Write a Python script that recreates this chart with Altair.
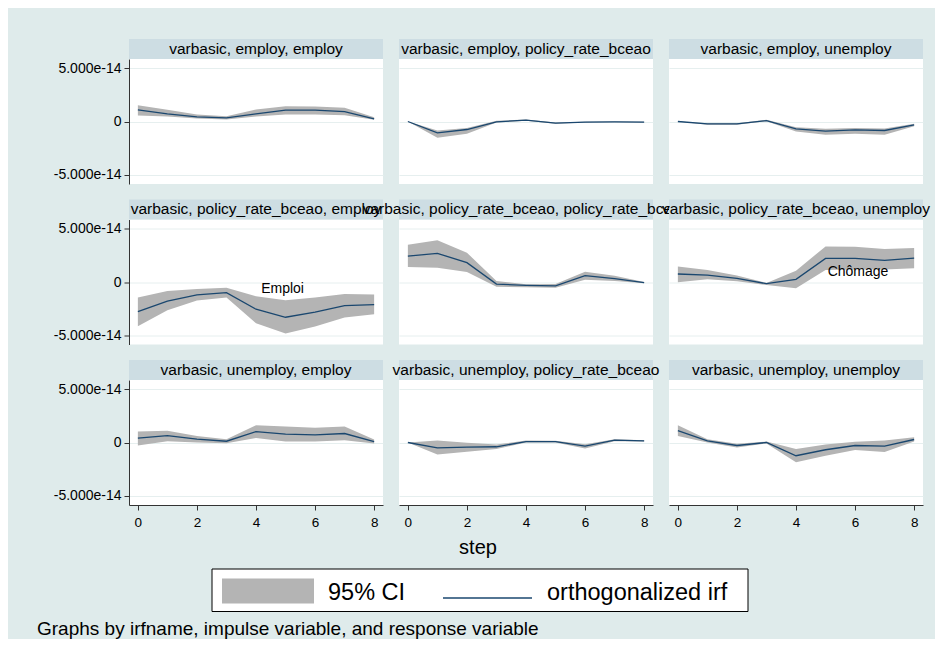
import altair as alt
import pandas as pd

# ---------------- data (values in units of 1e-14) ----------------
STEPS = [0, 1, 2, 3, 4, 5, 6, 7, 8]
UNIT = 1e-14

TITLES = [
    "varbasic, employ, employ",
    "varbasic, employ, policy_rate_bceao",
    "varbasic, employ, unemploy",
    "varbasic, policy_rate_bceao, employ",
    "varbasic, policy_rate_bceao, policy_rate_bceao",
    "varbasic, policy_rate_bceao, unemploy",
    "varbasic, unemploy, employ",
    "varbasic, unemploy, policy_rate_bceao",
    "varbasic, unemploy, unemploy",
]

IRF = [
    [1.09, 0.72, 0.44, 0.34, 0.72, 1.06, 1.06, 0.93, 0.25],
    [0.00, -1.06, -0.75, -0.03, 0.12, -0.16, -0.06, -0.03, -0.06],
    [0.00, -0.22, -0.22, 0.09, -0.69, -0.90, -0.78, -0.84, -0.31],
    [-2.77, -1.78, -1.21, -1.00, -2.55, -3.30, -2.83, -2.21, -2.12],
    [2.43, 2.68, 1.81, -0.19, -0.31, -0.37, 0.59, 0.31, -0.06],
    [0.75, 0.65, 0.34, -0.16, 0.25, 2.21, 2.21, 2.02, 2.24],
    [0.40, 0.65, 0.31, 0.12, 1.02, 0.78, 0.71, 0.84, 0.09],
    [0.00, -0.50, -0.43, -0.40, 0.09, 0.09, -0.34, 0.22, 0.16],
    [1.12, 0.16, -0.28, 0.00, -1.24, -0.68, -0.28, -0.34, 0.28],
]

LO = [
    [0.56, 0.47, 0.28, 0.19, 0.47, 0.65, 0.65, 0.59, 0.16],
    [0.00, -1.53, -1.15, -0.10, 0.06, -0.22, -0.10, -0.06, -0.09],
    [0.00, -0.31, -0.31, 0.03, -0.93, -1.25, -1.15, -1.25, -0.44],
    [-4.14, -2.65, -1.74, -1.46, -3.86, -4.83, -4.17, -3.33, -3.02],
    [1.40, 1.34, 0.93, -0.44, -0.50, -0.53, 0.22, 0.09, -0.12],
    [-0.03, 0.25, 0.06, -0.28, -0.59, 1.12, 1.18, 1.18, 1.28],
    [-0.28, 0.12, 0.00, -0.06, 0.43, 0.09, 0.09, 0.22, -0.09],
    [0.00, -1.12, -0.87, -0.62, 0.00, 0.00, -0.56, 0.12, 0.09],
    [0.62, 0.00, -0.47, -0.09, -1.86, -1.24, -0.71, -0.90, 0.09],
]

HI = [
    [1.53, 1.09, 0.65, 0.50, 1.12, 1.43, 1.40, 1.28, 0.40],
    [0.00, -0.84, -0.62, 0.06, 0.19, -0.10, -0.03, 0.00, -0.03],
    [0.00, -0.16, -0.16, 0.16, -0.53, -0.69, -0.62, -0.65, -0.22],
    [-1.46, -0.84, -0.65, -0.53, -1.34, -1.71, -1.46, -1.12, -1.18],
    [3.49, 3.90, 2.74, 0.09, -0.22, -0.19, 0.97, 0.59, 0.00],
    [1.46, 1.12, 0.62, -0.09, 1.06, 3.33, 3.30, 3.08, 3.18],
    [1.02, 1.09, 0.62, 0.31, 1.61, 1.49, 1.37, 1.49, 0.28],
    [0.00, 0.19, -0.03, -0.19, 0.19, 0.16, -0.16, 0.31, 0.22],
    [1.61, 0.31, -0.12, 0.09, -0.62, -0.19, 0.06, 0.19, 0.50],
]

# annotations: panel index -> (text, step, value)
ANNOT = {3: ("Emploi", 4.9, -0.7), 5: ("Chômage", 6.1, 0.93)}

Y_TICKS = [-5e-14, 0.0, 5e-14]
X_TICKS = [0, 2, 4, 6, 8]
LEGEND_LABELS = ["95% CI", "orthogonalized irf"]
X_TITLE = "step"
NOTE = "Graphs by irfname, impulse variable, and response variable"

# ---------------- styles ----------------
FONT = "Liberation Sans"
BG = "#dfebeb"
STRIP = "#cddde3"
GRID = "#e6efef"
NAVY = "#1a476f"
CIGRAY = "#b4b4b4"
AXC = "#333333"
W, H = 254, 125


def panel(k):
    r, c = divmod(k, 3)
    df = pd.DataFrame({
        "step": STEPS,
        "irf": [v * UNIT for v in IRF[k]],
        "lo": [v * UNIT for v in LO[k]],
        "hi": [v * UNIT for v in HI[k]],
    })
    if c == 0:
        yaxis = alt.Axis(
            values=Y_TICKS, title=None, grid=True, gridColor=GRID, gridWidth=1,
            domain=True, domainColor=AXC, ticks=True, tickColor=AXC, tickSize=5,
            labelFont=FONT, labelFontSize=14, labelColor="black", labelPadding=3,
            labelExpr="datum.value == 0 ? '0' : (datum.value < 0 ? '-' : '') + format(abs(datum.value), '.3e')",
        )
    else:
        yaxis = alt.Axis(values=Y_TICKS, title=None, grid=True, gridColor=GRID,
                         gridWidth=1, domain=False, ticks=False, labels=False)
    if r == 2:
        xaxis = alt.Axis(values=X_TICKS, title=None, grid=False, domain=True,
                         domainColor=AXC, ticks=True, tickColor=AXC, tickSize=5,
                         labelFont=FONT, labelFontSize=13.5, labelColor="black",
                         labelPadding=5, format="d")
    else:
        xaxis = None
    xs = alt.Scale(domain=[-0.3, 8.3], nice=False, zero=False)
    ys = alt.Scale(domain=[-5.85e-14, 5.85e-14], nice=False, zero=False)

    def X(field):
        return alt.X(field, scale=xs, axis=xaxis)

    def Y(field):
        return alt.Y(field, scale=ys, axis=yaxis)

    sdf = pd.DataFrame({"title": [TITLES[k]]})
    strip = alt.Chart(sdf).mark_rect(color=STRIP).encode(
        x=alt.value(0), x2=alt.value(W), y=alt.value(-20), y2=alt.value(0))
    strip_txt = alt.Chart(sdf).mark_text(
        font=FONT, fontSize=15.5, color="black", align="center", baseline="alphabetic"
    ).encode(x=alt.value(W / 2), y=alt.value(-5.5), text="title:N")

    area = alt.Chart(df).mark_area(color=CIGRAY, opacity=1).encode(
        x=X("step:Q"), y=Y("lo:Q"), y2="hi:Q")
    line = alt.Chart(df).mark_line(color=NAVY, strokeWidth=1.3).encode(
        x=X("step:Q"), y=Y("irf:Q"))
    layers = [area, line]
    if k in ANNOT:
        t, sx, sv = ANNOT[k]
        adf = pd.DataFrame({"label": [t], "step": [sx], "val": [sv * UNIT]})
        layers.append(alt.Chart(adf).mark_text(
            font=FONT, fontSize=14, color="black", align="center", baseline="middle"
        ).encode(x=X("step:Q"), y=Y("val:Q"), text="label:N"))
    layers += [strip, strip_txt]
    return alt.layer(*layers).properties(
        width=W, height=H, view=alt.ViewBackground(fill="white", strokeWidth=0))


panels = [panel(k) for k in range(9)]
grid = alt.concat(*panels, columns=3, spacing={"row": 35.5, "column": 16}, bounds="flush")

# ---------------- bottom: axis title, legend, note ----------------
one = lambda s: pd.DataFrame({"t": [s]})
BW, BH = 806, 100
step_t = alt.Chart(one(X_TITLE)).mark_text(
    font=FONT, fontSize=20, color="black", align="center", baseline="alphabetic"
).encode(x=alt.value(349), y=alt.value(20.5), text="t:N")
box = alt.Chart(one("box")).mark_rect(fill="white", stroke="black", strokeWidth=1).encode(
    x=alt.value(83), x2=alt.value(619), y=alt.value(36), y2=alt.value(78.5))
sw_area = alt.Chart(one("ci")).mark_rect(color=CIGRAY).encode(
    x=alt.value(93), x2=alt.value(185), y=alt.value(45.5), y2=alt.value(70.5))
sw_line = alt.Chart(one("irf")).mark_rule(color=NAVY, strokeWidth=1.5).encode(
    x=alt.value(314), x2=alt.value(403), y=alt.value(65))
lab1 = alt.Chart(one(LEGEND_LABELS[0])).mark_text(
    font=FONT, fontSize=23.5, color="black", align="left", baseline="alphabetic"
).encode(x=alt.value(199), y=alt.value(67), text="t:N")
lab2 = alt.Chart(one(LEGEND_LABELS[1])).mark_text(
    font=FONT, fontSize=23.5, color="black", align="left", baseline="alphabetic"
).encode(x=alt.value(418), y=alt.value(67), text="t:N")
note = alt.Chart(one(NOTE)).mark_text(
    font=FONT, fontSize=19, color="black", align="left", baseline="alphabetic"
).encode(x=alt.value(-92), y=alt.value(101.5), text="t:N")
bottom = alt.layer(step_t, box, sw_area, sw_line, lab1, lab2, note).properties(
    width=BW, height=BH)

chart = alt.vconcat(grid, bottom, spacing=4).properties(
    padding={"left": 29, "top": 31, "right": 0, "bottom": 0},
    background=BG,
).configure_view(strokeWidth=0)

chart.save("out.html", embed_options={"renderer": "svg", "actions": False})
